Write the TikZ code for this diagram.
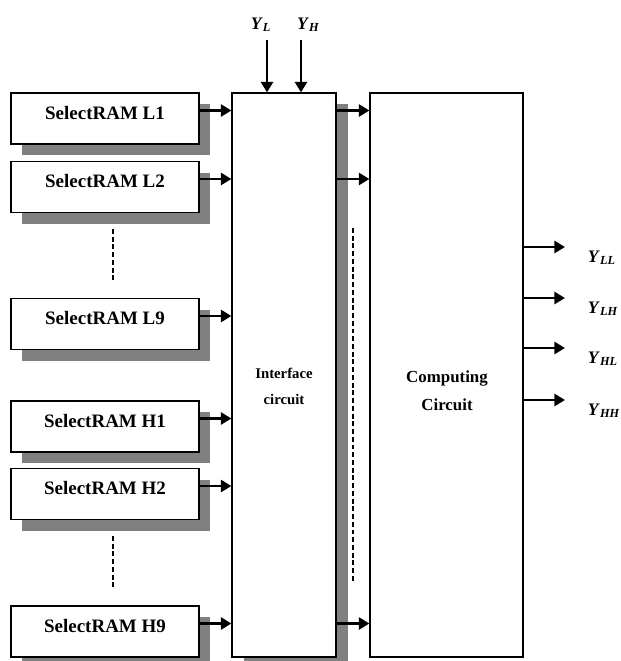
\documentclass[tikz,border=0pt]{standalone}
\usepackage{fontspec}
\setmainfont{Liberation Serif}
\usetikzlibrary{arrows.meta,positioning,shadows,calc}
\definecolor{shadowgray}{RGB}{128,128,128}
\newcommand{\ysig}[1]{\textbf{\textit{Y}}\textsubscript{\textbf{\textit{#1}}}}
\tikzset{
  %% memory blocks with grey shadow
  ramBox/.style={draw=black, line width=0.8pt, fill=white,
    minimum width=4.7cm, minimum height=1.275cm, text depth=3mm,
    font=\fontsize{13.5}{16}\selectfont\bfseries,
    drop shadow={shadow xshift=2.8mm, shadow yshift=-2.8mm, fill=shadowgray, opacity=1}},
  ifBox/.style={draw=black, line width=0.8pt, fill=white,
    minimum width=2.6cm, minimum height=14.1cm,
    drop shadow={shadow xshift=3mm, shadow yshift=-2.8mm, fill=shadowgray, opacity=1}},
  cmpBox/.style={draw=black, line width=0.8pt, fill=white,
    minimum width=3.825cm, minimum height=14.1cm},
  boxText/.style={align=center, font=\bfseries},
  %% signals
  busArrow/.style={-{Triangle[length=7.5pt,width=8.5pt]}, line width=1.9pt},
  sigLabel/.style={font=\fontsize{12.5}{15}\selectfont},
  dotLine/.style={line width=1.9pt, dash pattern=on 3.5pt off 2pt},
}
\begin{document}
\begin{tikzpicture}[x=0.25mm, y=-0.25mm]
\useasboundingbox (0,0) rectangle (621,661);

\foreach \nm/\lab/\yy in {rL1/L1/118.5, rL2/L2/187, rL9/L9/324, rH1/H1/426.5, rH2/H2/494, rH9/H9/631.5}
  \node[ramBox] (\nm) at (105,\yy) {SelectRAM \lab};

\node[ifBox]  (ifc) at (284,375) {};
\node[boxText, font=\fontsize{10.5}{18.5}\selectfont\bfseries] (ifcText) at (284,386) {Interface\\circuit};
\node[cmpBox] (cmp) at (446.5,375) {};
\node[boxText, font=\fontsize{12}{20}\selectfont\bfseries] (cmpText) at (447,391) {Computing\\Circuit};

%% memories -> interface
\foreach \nm in {rL1, rL2, rL9, rH1, rH2, rH9}
  \draw[busArrow] ($(\nm.east)+(0,-8)$) -- ($(\nm.east -| ifc.west)+(0,-8)$);

%% interface -> computing
\foreach \nm in {rL1, rL2, rH9}
  \draw[busArrow] ($(ifc.east |- \nm.east)+(-2,-8)$) -- ($(cmp.west |- \nm.east)+(0,-8)$);

%% inputs on top
\coordinate (yL) at (267,40);
\coordinate (yH) at (301,40);
\draw[busArrow] (yL) -- (yL |- ifc.north);
\draw[busArrow] (yH) -- (yH |- ifc.north);
\node[sigLabel, anchor=base] (yLlab) at (261,29) {\ysig{L}};
\node[sigLabel, anchor=base] (yHlab) at (308.5,29) {\ysig{H}};

%% outputs
\foreach \nm/\yy in {LL/247, LH/298, HL/348, HH/400} {
  \coordinate (o\nm) at (565,\yy);
  \draw[busArrow] (o\nm -| cmp.east) -- (o\nm);
  \node[sigLabel, anchor=base west] (y\nm) at ($(o\nm)+(18,15)$) {\ysig{\nm}};
}

%% omitted blocks
\draw[dotLine] (113,229) -- (113,281);
\draw[dotLine] (113,536) -- (113,588);
\draw[dotLine] (353,228) -- (353,583);

\end{tikzpicture}
\end{document}
